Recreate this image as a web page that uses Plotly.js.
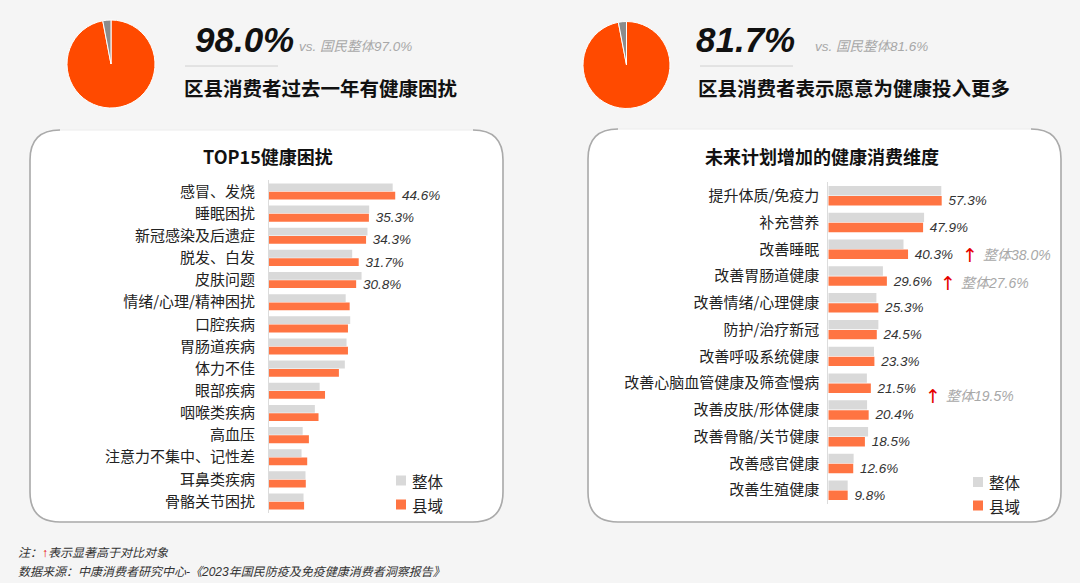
<!DOCTYPE html>
<html>
<head>
<meta charset="utf-8">
<script src="https://cdn.plot.ly/plotly-3.0.1.min.js"></script>
<style>
  html, body { margin: 0; padding: 0; background: #f5f5f5; }
  #chart { width: 1080px; height: 583px; }
</style>
</head>
<body>
<div id="chart"></div>
<script>
// ---------------- data ----------------
const headlineLeftValue = 98.0;
const headlineLeftNational = 97.0;
const headlineLeftText = "区县消费者过去一年有健康困扰";
const headlineRightValue = 81.7;
const headlineRightNational = 81.6;
const headlineRightText = "区县消费者表示愿意为健康投入更多";

const pieLabels = ["是", "其他"];
const pieLeftValues = [97, 3];
const pieRightValues = [97, 3];

const seriesNames = ["整体", "县域"];

const leftTitle = "TOP15健康困扰";
const leftCategories = ["感冒、发烧", "睡眠困扰", "新冠感染及后遗症", "脱发、白发", "皮肤问题",
  "情绪/心理/精神困扰", "口腔疾病", "胃肠道疾病", "体力不佳", "眼部疾病", "咽喉类疾病",
  "高血压", "注意力不集中、记性差", "耳鼻类疾病", "骨骼关节困扰"];
const leftOverall = [43.7, 35.4, 34.8, 29.4, 32.7, 27.1, 28.7, 27.4, 26.8, 17.9, 16.2, 11.9, 11.5, 12.9, 12.2];
const leftCounty  = [44.6, 35.3, 34.3, 31.7, 30.8, 28.5, 27.9, 27.9, 24.7, 19.8, 17.5, 14.1, 13.5, 13.0, 12.4];
const leftLabelCount = 5;

const rightTitle = "未来计划增加的健康消费维度";
const rightCategories = ["提升体质/免疫力", "补充营养", "改善睡眠", "改善胃肠道健康", "改善情绪/心理健康",
  "防护/治疗新冠", "改善呼吸系统健康", "改善心脑血管健康及筛查慢病", "改善皮肤/形体健康",
  "改善骨骼/关节健康", "改善感官健康", "改善生殖健康"];
const rightOverall = [57.1, 48.4, 38.0, 27.6, 24.3, 25.3, 23.1, 19.5, 19.6, 20.1, 12.8, 9.8];
const rightCounty  = [57.3, 47.9, 40.3, 29.6, 25.3, 24.5, 23.3, 21.5, 20.4, 18.5, 12.6, 9.8];
const rightSignificant = ["改善睡眠", "改善胃肠道健康", "改善心脑血管健康及筛查慢病"];

const noteLine = "表示显著高于对比对象";
const sourceLine = "数据来源：中康消费者研究中心-《2023年国民防疫及免疫健康消费者洞察报告》";

// ---------------- helpers ----------------
const W = 1080, H = 583;
const px = x => x / W;
const py = y => 1 - y / H;
const CJK = '"Noto Sans CJK SC", "Noto Sans", sans-serif';
const LAT = '"Liberation Sans", Arial, "Noto Sans CJK SC", sans-serif';
const GRAY = '#d9d9d9';
const ORANGE = '#ff7442';
const PIE_ORANGE = '#ff4a00';
const PIE_GRAY = '#8c8c8c';
const pct = v => v.toFixed(1) + '%';

// ---------------- traces ----------------
const traces = [];
traces.push({
  type: 'pie', values: pieLeftValues, labels: pieLabels, sort: false,
  direction: 'clockwise', rotation: 0,
  marker: { colors: [PIE_ORANGE, PIE_GRAY], line: { color: '#ffffff', width: 1 } },
  textinfo: 'none', hoverinfo: 'skip', showlegend: false,
  domain: { x: [px(67), px(155)], y: [py(108), py(20)] }
});
traces.push({
  type: 'pie', values: pieRightValues, labels: pieLabels, sort: false,
  direction: 'clockwise', rotation: 0,
  marker: { colors: [PIE_ORANGE, PIE_GRAY], line: { color: '#ffffff', width: 1 } },
  textinfo: 'none', hoverinfo: 'skip', showlegend: false,
  domain: { x: [px(583), px(670)], y: [py(109), py(21)] }
});

const labelFont = { family: LAT, size: 13.5, color: '#333', style: 'italic' };

traces.push({
  type: 'bar', orientation: 'h', name: seriesNames[0], y: leftCategories, x: leftOverall,
  xaxis: 'x', yaxis: 'y', marker: { color: GRAY }, hoverinfo: 'skip', showlegend: false
});
traces.push({
  type: 'bar', orientation: 'h', name: seriesNames[1], y: leftCategories, x: leftCounty,
  xaxis: 'x', yaxis: 'y', marker: { color: ORANGE }, hoverinfo: 'skip', showlegend: false,
  text: leftCounty.map((v, i) => i < leftLabelCount ? '\u00a0' + pct(v) : ''),
  textposition: 'outside', constraintext: 'none', textfont: labelFont, cliponaxis: false
});
traces.push({
  type: 'bar', orientation: 'h', name: seriesNames[0], y: rightCategories, x: rightOverall,
  xaxis: 'x2', yaxis: 'y2', marker: { color: GRAY }, hoverinfo: 'skip', showlegend: false
});
traces.push({
  type: 'bar', orientation: 'h', name: seriesNames[1], y: rightCategories, x: rightCounty,
  xaxis: 'x2', yaxis: 'y2', marker: { color: ORANGE }, hoverinfo: 'skip', showlegend: false,
  text: rightCounty.map(v => '\u00a0' + pct(v)),
  textposition: 'outside', constraintext: 'none', textfont: labelFont, cliponaxis: false
});

// ---------------- shapes ----------------
function boxFill(x0, y0, x1, y1, r) {
  return 'M ' + px(x0) + ',' + py(y0 + r) +
    ' L ' + px(x0) + ',' + py(y1 - r) +
    ' Q ' + px(x0) + ',' + py(y1) + ' ' + px(x0 + r) + ',' + py(y1) +
    ' L ' + px(x1 - r) + ',' + py(y1) +
    ' Q ' + px(x1) + ',' + py(y1) + ' ' + px(x1) + ',' + py(y1 - r) +
    ' L ' + px(x1) + ',' + py(y0 + r) +
    ' Q ' + px(x1) + ',' + py(y0) + ' ' + px(x1 - r) + ',' + py(y0) +
    ' L ' + px(x0 + r) + ',' + py(y0) +
    ' Q ' + px(x0) + ',' + py(y0) + ' ' + px(x0) + ',' + py(y0 + r) + ' Z';
}
function boxBorder(x0, y0, x1, y1, r) {
  return 'M ' + px(x0 + r) + ',' + py(y0) +
    ' Q ' + px(x0) + ',' + py(y0) + ' ' + px(x0) + ',' + py(y0 + r) +
    ' L ' + px(x0) + ',' + py(y1 - r) +
    ' Q ' + px(x0) + ',' + py(y1) + ' ' + px(x0 + r) + ',' + py(y1) +
    ' L ' + px(x1 - r) + ',' + py(y1) +
    ' Q ' + px(x1) + ',' + py(y1) + ' ' + px(x1) + ',' + py(y1 - r) +
    ' L ' + px(x1) + ',' + py(y0 + r) +
    ' Q ' + px(x1) + ',' + py(y0) + ' ' + px(x1 - r) + ',' + py(y0);
}
const shapes = [];
[[30, 130, 503, 522], [588, 129, 1061, 522]].forEach(b => {
  shapes.push({ type: 'path', xref: 'paper', yref: 'paper', layer: 'below',
    path: boxFill(b[0], b[1], b[2], b[3], 30), fillcolor: '#ffffff', line: { color: '#ececec', width: 1 } });
  shapes.push({ type: 'path', xref: 'paper', yref: 'paper', layer: 'below',
    path: boxBorder(b[0], b[1], b[2], b[3], 30), line: { color: '#aaaaaa', width: 1.6 } });
});
// separators under big numbers
shapes.push({ type: 'line', xref: 'paper', yref: 'paper', x0: px(185), x1: px(278), y0: py(66), y1: py(66), line: { color: '#d0d0d0', width: 1 } });
shapes.push({ type: 'line', xref: 'paper', yref: 'paper', x0: px(700), x1: px(793), y0: py(66), y1: py(66), line: { color: '#d0d0d0', width: 1 } });
// legend squares
function sq(x0, y0, c) {
  shapes.push({ type: 'rect', xref: 'paper', yref: 'paper', x0: px(x0), x1: px(x0 + 10), y0: py(y0 + 10), y1: py(y0), fillcolor: c, line: { width: 0 } });
}
sq(396, 475.5, GRAY); sq(396, 499.5, ORANGE);
sq(973, 477, GRAY); sq(973, 500.5, ORANGE);

// ---------------- annotations ----------------
const ann = [];
function txt(x, y, text, font, xanchor) {
  ann.push({ xref: 'paper', yref: 'paper', x: px(x), y: py(y), text: text, showarrow: false,
    xanchor: xanchor || 'left', yanchor: 'middle', font: font });
}
txt(193, 40, '<b><i>' + pct(headlineLeftValue) + '</i></b>', { family: LAT, size: 35, color: '#111' });
txt(297, 47, '<i>vs. 国民整体' + pct(headlineLeftNational) + '</i>', { family: LAT, size: 13.5, color: '#a8a8a8' });
txt(182, 87, '<b>' + headlineLeftText + '</b>', { family: CJK, size: 19.5, color: '#111' });
txt(694, 40, '<b><i>' + pct(headlineRightValue) + '</i></b>', { family: LAT, size: 35, color: '#111' });
txt(813, 47, '<i>vs. 国民整体' + pct(headlineRightNational) + '</i>', { family: LAT, size: 13.5, color: '#a8a8a8' });
txt(696, 87, '<b>' + headlineRightText + '</b>', { family: CJK, size: 19.5, color: '#111' });

txt(267.5, 156, '<b>' + leftTitle + '</b>', { family: CJK, size: 18, color: '#111' }, 'center');
txt(821.5, 156, '<b>' + rightTitle + '</b>', { family: CJK, size: 18, color: '#111' }, 'center');

const legFont = { family: CJK, size: 15.5, color: '#222' };
txt(410, 480.5, seriesNames[0], legFont); txt(410, 504.5, seriesNames[1], legFont);
txt(987, 482, seriesNames[0], legFont); txt(987, 505.5, seriesNames[1], legFont);

txt(16, 553, '<i>注：<span style="color:#e60000">↑</span>' + noteLine + '</i>', { family: LAT, size: 12, color: '#333' });
txt(16, 571.5, '<i>' + sourceLine + '</i>', { family: LAT, size: 12, color: '#333' });

// significance markers on right chart
const sigPos = { "改善睡眠": [970, 6], "改善胃肠道健康": [948, 7], "改善心脑血管健康及筛查慢病": [933, 13] };
rightSignificant.forEach(c => {
  const i = rightCategories.indexOf(c);
  const p = sigPos[c];
  ann.push({ xref: 'paper', yref: 'y2', x: px(p[0]), y: c, yshift: -p[1], text: '↑', showarrow: false,
    xanchor: 'center', yanchor: 'middle', font: { family: '"DejaVu Sans", sans-serif', size: 19, color: '#e60000' } });
  ann.push({ xref: 'paper', yref: 'y2', x: px(p[0] + 11), y: c, yshift: -p[1], text: '<i>整体' + pct(rightOverall[i]) + '</i>',
    showarrow: false, xanchor: 'left', yanchor: 'middle', font: { family: LAT, size: 14, color: '#a8a8a8' } });
});

// ---------------- layout ----------------
const yCommon = {
  type: 'category', autorange: 'reversed', showline: true, linecolor: '#dcdcdc', linewidth: 1,
  ticks: '', showgrid: false, zeroline: false, fixedrange: true,
  tickfont: { family: CJK, size: 15, color: '#222' }
};
const xCommon = { showticklabels: false, showgrid: false, zeroline: false, showline: false, ticks: '', fixedrange: true };

const layout = {
  width: W, height: H,
  margin: { l: 0, r: 0, t: 0, b: 0 },
  paper_bgcolor: '#f5f5f5', plot_bgcolor: 'rgba(0,0,0,0)',
  showlegend: false, hovermode: false,
  barmode: 'group', bargap: 0.25, bargroupgap: 0.06,
  xaxis: Object.assign({}, xCommon, { domain: [px(269), px(269 + 2.83 * 60)], range: [0, 60], anchor: 'y' }),
  yaxis: Object.assign({}, yCommon, { domain: [py(512.6), py(180.4)], anchor: 'x', ticklabelstandoff: 10 }),
  xaxis2: Object.assign({}, xCommon, { domain: [px(828.3), px(828.3 + 1.979 * 100)], range: [0, 100], anchor: 'y2' }),
  yaxis2: Object.assign({}, yCommon, { domain: [py(503.6), py(182.4)], anchor: 'x2', ticklabelstandoff: 5 }),
  shapes: shapes,
  annotations: ann
};

Plotly.newPlot('chart', traces, layout, { displayModeBar: false, staticPlot: true });
</script>
</body>
</html>
